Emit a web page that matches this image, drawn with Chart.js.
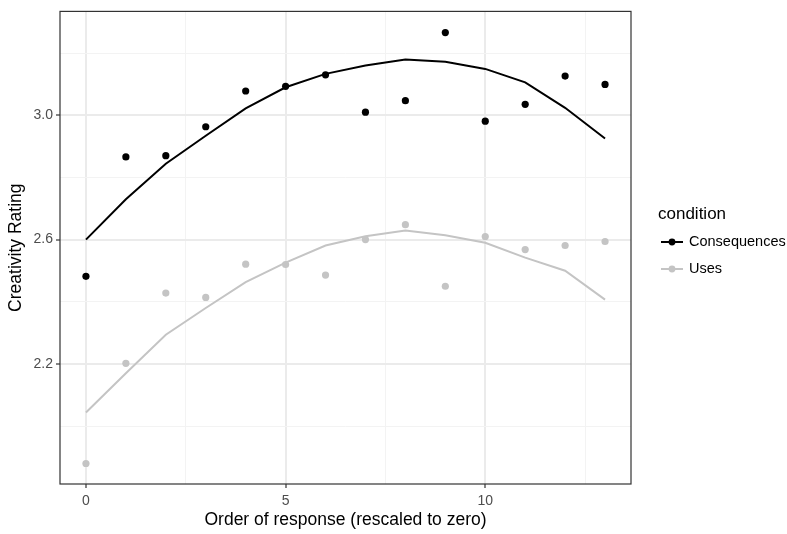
<!DOCTYPE html>
<html>
<head>
<meta charset="utf-8">
<script src="https://cdn.jsdelivr.net/npm/chart.js@4/dist/chart.umd.min.js"></script>
<style>
  html, body { margin: 0; padding: 0; background: #fff; }
  #wrap { width: 787px; height: 534px; position: relative; }
</style>
</head>
<body>
<div id="wrap"><canvas id="chart"></canvas></div>
<script>
// data
const order = [0, 1, 2, 3, 4, 5, 6, 7, 8, 9, 10, 11, 12, 13];
const conditions = ['Consequences', 'Uses'];
const consequencesMean = [2.482, 2.866, 2.870, 2.963, 3.078, 3.093, 3.130, 3.010, 3.047, 3.266, 2.981, 3.035, 3.126, 3.099];
const consequencesFit = [2.600, 2.730, 2.844, 2.934, 3.022, 3.090, 3.133, 3.160, 3.179, 3.172, 3.149, 3.106, 3.024, 2.925];
const usesMean = [1.880, 2.202, 2.428, 2.414, 2.521, 2.520, 2.486, 2.600, 2.648, 2.450, 2.610, 2.568, 2.581, 2.594];
const usesFit = [2.044, 2.170, 2.294, 2.380, 2.463, 2.526, 2.581, 2.611, 2.629, 2.614, 2.590, 2.542, 2.500, 2.407];
const xMajor = [0, 5, 10];
const xMinor = [2.5, 7.5, 12.5];
const yMajor = [2.2, 2.6, 3.0];
const yMinor = [2.0, 2.4, 2.8, 3.2];

const colors = { Consequences: '#000000', Uses: '#c4c4c4' };
const FONT = '"Liberation Sans", Arial, sans-serif';

const toXY = (ys) => ys.map((y, i) => ({ x: order[i], y: y }));
const isMajor = (v, list) => list.some(m => Math.abs(m - v) < 1e-6);

const datasets = [];
[[consequencesMean, consequencesFit], [usesMean, usesFit]].forEach((pair, k) => {
    const c = colors[conditions[k]];
    datasets.push({
        label: conditions[k] + ' fit', data: toXY(pair[1]), showLine: true,
        borderColor: c, borderWidth: 2, pointRadius: 0, fill: false, tension: 0
    });
    datasets.push({
        label: conditions[k], data: toXY(pair[0]), showLine: false,
        backgroundColor: c, borderColor: c, pointRadius: 3.6, pointBorderWidth: 0
    });
});

const frame = {
    id: 'frame',
    afterDatasetsDraw(chart) {
        const { ctx, chartArea: a } = chart;
        ctx.save();
        ctx.strokeStyle = '#333333';
        ctx.lineWidth = 1.2;
        ctx.strokeRect(a.left, a.top, a.right - a.left, a.bottom - a.top);
        ctx.restore();
    },
    afterDraw(chart) {
        const { ctx, chartArea: a } = chart;
        ctx.save();
        // legend
        const lx = a.right + 27;
        ctx.fillStyle = '#000';
        ctx.font = '17px ' + FONT;
        ctx.textBaseline = 'middle';
        ctx.fillText('condition', lx, 214);
        conditions.forEach((name, i) => {
            const y = 242 + i * 27;
            const c = colors[name];
            ctx.strokeStyle = c;
            ctx.lineWidth = 2;
            ctx.beginPath();
            ctx.moveTo(lx + 3, y);
            ctx.lineTo(lx + 25, y);
            ctx.stroke();
            ctx.fillStyle = c;
            ctx.beginPath();
            ctx.arc(lx + 14, y, 3.4, 0, Math.PI * 2);
            ctx.fill();
            ctx.fillStyle = '#000';
            ctx.font = '14.5px ' + FONT;
            ctx.fillText(name, lx + 31, y);
        });
        ctx.restore();
    }
};

new Chart(document.getElementById('chart'), {
    type: 'scatter',
    data: { datasets },
    options: {
        responsive: true,
        maintainAspectRatio: false,
        animation: false,
        layout: { padding: { top: 6, right: 156, left: 0, bottom: 0 } },
        plugins: { legend: { display: false }, tooltip: { enabled: false } },
        scales: {
            x: {
                type: 'linear', min: -0.65, max: 13.65,
                afterFit(s) { s.height = 50; },
                afterBuildTicks(s) { s.ticks = xMajor.concat(xMinor).sort((a, b) => a - b).map(v => ({ value: v })); },
                grid: {
                    color: c => isMajor(c.tick.value, xMajor) ? '#ebebeb' : '#f3f3f3',
                    lineWidth: c => isMajor(c.tick.value, xMajor) ? 2 : 1,
                    tickColor: c => isMajor(c.tick.value, xMajor) ? '#333333' : 'rgba(0,0,0,0)',
                    tickLength: 4, tickWidth: 1.2
                },
                border: { display: false },
                ticks: {
                    autoSkip: false, maxRotation: 0, padding: 5,
                    color: '#4d4d4d', font: { family: FONT, size: 14 },
                    callback: v => isMajor(v, xMajor) ? String(v) : ''
                },
                title: {
                    display: true, text: 'Order of response (rescaled to zero)',
                    color: '#000', font: { family: FONT, size: 17.5 }, padding: { top: 0, bottom: 3 }
                }
            },
            y: {
                type: 'linear', min: 1.814, max: 3.334,
                afterFit(s) { s.width = 60; },
                afterBuildTicks(s) { s.ticks = yMajor.concat(yMinor).sort((a, b) => a - b).map(v => ({ value: v })); },
                grid: {
                    color: c => isMajor(c.tick.value, yMajor) ? '#ebebeb' : '#f3f3f3',
                    lineWidth: c => isMajor(c.tick.value, yMajor) ? 2 : 1,
                    tickColor: c => isMajor(c.tick.value, yMajor) ? '#333333' : 'rgba(0,0,0,0)',
                    tickLength: 4, tickWidth: 1.2
                },
                border: { display: false },
                ticks: {
                    autoSkip: false, padding: 3,
                    color: '#4d4d4d', font: { family: FONT, size: 14 },
                    callback: v => isMajor(v, yMajor) ? v.toFixed(1) : ''
                },
                title: {
                    display: true, text: 'Creativity Rating',
                    color: '#000', font: { family: FONT, size: 17.5 }, padding: { top: 6, bottom: 0 }
                }
            }
        }
    },
    plugins: [frame]
});
</script>
</body>
</html>
